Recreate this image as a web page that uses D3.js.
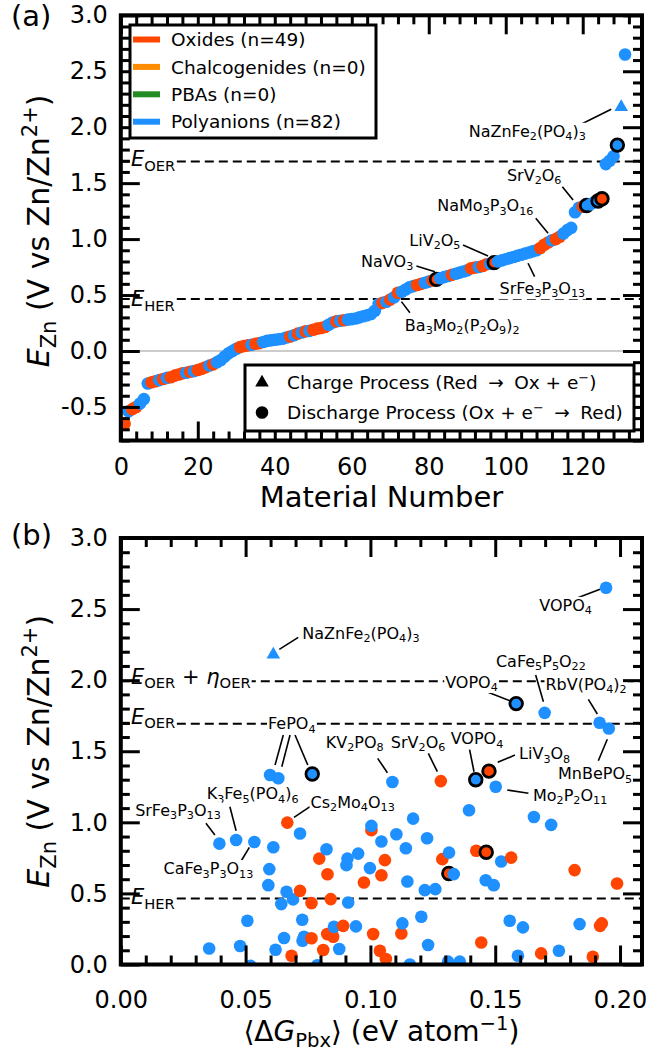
<!DOCTYPE html>
<html>
<head>
<meta charset="utf-8">
<script src="https://cdn.jsdelivr.net/npm/d3@7"></script>
<style>
  html, body { margin: 0; padding: 0; background: #ffffff; }
  svg { display: block; }
</style>
</head>
<body>
<svg id="fig" width="649" height="1051"></svg>
<script>
// ---------------------------------------------------------------
// Data
// ---------------------------------------------------------------

// (a) E_Zn of every material, sorted from lowest to highest
//     (material number = position in the list + 1)
const materialE = [
  -0.65, -0.54, -0.52, -0.50, -0.47, -0.43, -0.29, -0.28, -0.27, -0.26,
  -0.25, -0.24, -0.235, -0.22, -0.21, -0.20, -0.195, -0.185, -0.18, -0.17,
  -0.16, -0.145, -0.13, -0.12, -0.10, -0.08, -0.05, -0.02, 0.00, 0.02,
  0.035, 0.045, 0.05, 0.055, 0.065, 0.07, 0.08, 0.09, 0.095, 0.10,
  0.105, 0.11, 0.12, 0.13, 0.14, 0.155, 0.165, 0.175, 0.18, 0.19,
  0.20, 0.205, 0.215, 0.235, 0.255, 0.265, 0.27, 0.275, 0.28, 0.285,
  0.29, 0.30, 0.31, 0.32, 0.33, 0.36, 0.42, 0.43, 0.44, 0.46,
  0.48, 0.52, 0.53, 0.55, 0.57, 0.58, 0.59, 0.60, 0.61, 0.62,
  0.63, 0.64, 0.65, 0.66, 0.67, 0.68, 0.69, 0.70, 0.71, 0.72,
  0.74, 0.745, 0.75, 0.76, 0.775, 0.78, 0.79, 0.80, 0.81, 0.82,
  0.83, 0.84, 0.85, 0.86, 0.87, 0.88, 0.89, 0.90, 0.92, 0.95,
  0.97, 0.99, 1.00, 1.02, 1.05, 1.08, 1.10, 1.24, 1.28, 1.29,
  1.30, 1.31, 1.33, 1.34, 1.36, 1.67, 1.70, 1.74, 1.84, 2.18,
  2.65
];
// material class in the same order: o = oxide, p = polyanion
const materialClass = (
  "opoopppoop" + "opoooopopo" + "oopopppppp" + "ooopoopppp" + "pppopopopo" +
  "oooppopopp" + "pppppppopo" + "poppppoopp" + "oopppopppp" + "oopoopoppp" +
  "ppppppppoo" + "opoopppppo" + "ppppopppppp").split("");
// material numbers drawn with a black edge
const materialHighlight = [82, 97, 121, 124, 125, 129];
// material numbers whose voltage belongs to a charge process
const materialCharge = [130];

// (b) mean Pourbaix decomposition free energy and E_Zn of each material
const dGpbx = [
  0.0354, 0.0395, 0.0462, 0.0478, 0.0507, 0.0520, 0.0535, 0.0591, 0.0595, 0.0598,
  0.0611, 0.0611, 0.0620, 0.0631, 0.0643, 0.0654, 0.0664, 0.0667, 0.0684, 0.0690,
  0.0718, 0.0718, 0.0727, 0.0728, 0.0734, 0.0764, 0.0764, 0.0767, 0.0787, 0.0795,
  0.0811, 0.0824, 0.0827, 0.0828, 0.0841, 0.0851, 0.0854, 0.0875, 0.0891, 0.0904,
  0.0908, 0.0911, 0.0942, 0.0951, 0.0974, 0.0998, 0.1004, 0.1004, 0.1011, 0.1038,
  0.1044, 0.1044, 0.1058, 0.1062, 0.1088, 0.1104, 0.1124, 0.1128, 0.1142, 0.1148,
  0.1158, 0.1171, 0.1204, 0.1218, 0.1227, 0.1231, 0.1260, 0.1282, 0.1288, 0.1311,
  0.1314, 0.1315, 0.1334, 0.1358, 0.1395, 0.1422, 0.1424, 0.1444, 0.1462, 0.1464,
  0.1475, 0.1494, 0.1502, 0.1524, 0.1558, 0.1564, 0.1584, 0.1591, 0.1611, 0.1655,
  0.1684, 0.1698, 0.1724, 0.1755, 0.1818, 0.1838, 0.1891, 0.1918, 0.1920, 0.1927,
  0.1944, 0.1955, 0.1988
];
const eZn = [
  0.113, 0.850, 0.876, 0.130, 0.308, -0.010, 0.862, 0.558, 0.671, 1.333,
  2.180, 0.825, 0.104, 1.310, 0.425, 0.186, 0.512, 0.998, 0.062, 0.458,
  0.518, 0.921, 0.315, 0.167, 0.195, 0.185, 0.432, 1.340, -0.005, 0.745,
  0.102, 0.811, 0.214, 0.635, 0.460, 0.195, 0.265, 0.109, 0.272, 0.699,
  0.745, 0.436, 0.268, 0.780, 0.577, 0.678, 0.945, 0.975, 0.214, 0.097,
  0.628, 0.865, 0.734, 0.039, 1.284, 0.916, 0.218, 0.289, 0.818, 0.584,
  0.000, 1.026, 0.336, 0.523, 0.888, 0.137, 0.530, 1.290, 0.741, 0.020,
  0.640, 0.787, 0.636, 0.020, 1.085, 1.300, 0.800, 0.155, 0.593, 0.790,
  1.360, 0.558, 1.250, 0.724, 0.308, 0.752, 1.835, 0.062, 0.261, 1.038,
  0.078, 1.770, 0.982, 0.097, 0.664, 0.284, 0.055, 1.700, 0.272, 0.289,
  2.650, 1.660, 0.570
];
const pointClass = (
  "pppppppppp" + "pppppppoop" + "oppppooppo" + "opooooppop" + "ppppopopoo" +
  "opooppoppp" + "pppppppoop" + "opppppoopo" + "oppppopppp" + "opppopopoo" +
  "ppo").split("");
const pointHighlight = [27, 70, 75, 79, 80, 86];
const pointCharge = [10];

// reference potentials, V vs Zn/Zn2+
const E_HER = 0.464;
const E_OER = 1.693;
const ETA_OER = 0.30;

// legend entries
const legendClasses = ["Oxides (n=49)", "Chalcogenides (n=0)", "PBAs (n=0)", "Polyanions (n=82)"];
const classColors = ["#ff4500", "#ff8c00", "#228b22", "#1e90ff"];
const OXIDE = classColors[0], POLY = classColors[3];

// tick values
const xTicksA = [0, 20, 40, 60, 80, 100, 120];
const yTicksA = [-0.5, 0.0, 0.5, 1.0, 1.5, 2.0, 2.5, 3.0];
const xTicksB = [0.00, 0.05, 0.10, 0.15, 0.20];
const yTicksB = [0.0, 0.5, 1.0, 1.5, 2.0, 2.5, 3.0];

// annotated materials: label, label centre and leader line (data units)
const labelsA = [
  { name: "NaZnFe2(PO4)3", at: [105.6, 1.966], line: [[119.7, 2.029], [127.4, 2.16]] },
  { name: "SrV2O6",        at: [107.4, 1.573], line: [[114.7, 1.468], [117.5, 1.349]] },
  { name: "NaMo3P3O16",    at: [94.7, 1.30],   line: [[107.8, 1.186], [111.0, 1.052]] },
  { name: "LiV2O5",        at: [81.6, 0.992],  line: [[88.9, 0.947], [95.4, 0.849]] },
  { name: "NaVO3",         at: [69.2, 0.804],  line: [[76.8, 0.760], [81.6, 0.709]] },
  { name: "SrFe3P3O13",    at: [109.5, 0.563], line: [[107.5, 0.664], [105.8, 0.784]] },
  { name: "Ba3Mo2(P2O9)2", at: [88.7, 0.232],  line: [[75.1, 0.342], [72.9, 0.441]] }
];
const labelsB = [
  { name: "NaZnFe2(PO4)3", at: [0.0962, 2.331], line: [[0.0711, 2.301], [0.0635, 2.217]] },
  { name: "VOPO4",         at: [0.1782, 2.528], line: [[0.1833, 2.582], [0.1920, 2.639]] },
  { name: "CaFe5P5O22",    at: [0.1683, 2.136], line: [[0.1662, 2.036], [0.1693, 1.848]] },
  { name: "VOPO4",         at: [0.1405, 1.989], line: [[0.1466, 1.918], [0.1559, 1.855]] },
  { name: "RbV(PO4)2",     at: [0.1864, 1.973], line: [[0.1873, 1.865], [0.1909, 1.762]] },
  { name: "MnBePO5",       at: [0.1900, 1.345], line: [[0.1913, 1.433], [0.1949, 1.584]] },
  { name: "VOPO4",         at: [0.1427, 1.591], line: [[0.1395, 1.532], [0.1415, 1.356]] },
  { name: "LiV3O8",        at: [0.1698, 1.485], line: [[0.1579, 1.473], [0.1510, 1.422]] },
  { name: "Mo2P2O11",      at: [0.1800, 1.192], line: [[0.1633, 1.204], [0.1548, 1.227]] },
  { name: "SrV2O6",        at: [0.1191, 1.567], line: [[0.1232, 1.485], [0.1268, 1.356]] },
  { name: "KV2PO8",        at: [0.0937, 1.567], line: [[0.1029, 1.450], [0.1068, 1.349]] },
  { name: "FePO4",         at: [0.0685, 1.696], line: [[0.0651, 1.614], [0.0618, 1.403]] },
  { name: "",              at: null,            line: [[0.0678, 1.614], [0.0645, 1.391]] },
  { name: "",              at: null,            line: [[0.0698, 1.614], [0.0749, 1.403]] },
  { name: "Cs2Mo4O13",     at: [0.0929, 1.145], line: [[0.0758, 1.110], [0.0694, 1.035]] },
  { name: "K3Fe5(PO4)6",   at: [0.0528, 1.204], line: [[0.0437, 1.110], [0.0462, 0.941]] },
  { name: "SrFe3P3O13",    at: [0.0229, 1.087], line: [[0.0341, 0.993], [0.0377, 0.911]] },
  { name: "CaFe3P3O13",    at: [0.0351, 0.677], line: [[0.0482, 0.728], [0.0515, 0.824]] }
];

// ---------------------------------------------------------------
// Drawing
// ---------------------------------------------------------------
const FONT = "DejaVu Sans";
const svg = d3.select("#fig").attr("font-family", FONT);
const MAJOR = 19, MINOR = 9;
const R_PT = 6.3;

const xA = d3.scaleLinear().domain([0, 135.4]).range([120.8, 642]);
const yA = d3.scaleLinear().domain([-0.8, 3.0]).range([440.5, 15.3]);
const xB = d3.scaleLinear().domain([0, 0.2088]).range([120.8, 642]);
const yB = d3.scaleLinear().domain([0, 3.0]).range([964.5, 538]);

// rich text: segments {t, it, sub, sup}
function rich(text, segs, fs) {
  let off = 0;
  segs.forEach(s => {
    const target = s.sub ? fs * 0.22 : s.sup ? -fs * 0.40 : 0;
    const ts = text.append("tspan").text(s.t)
      .attr("font-size", (s.sub || s.sup) ? fs * 0.7 : fs)
      .attr("dy", target - off);
    if (s.it) ts.attr("font-style", "italic");
    off = target;
  });
  return text;
}
// chemical formula: digit groups become subscripts
function formulaSegs(str) {
  return str.match(/\d+|[^\d]+/g).map(p => ({ t: p, sub: /^\d+$/.test(p) }));
}
// text with a white box behind it
function boxed(g, x, y, segs, fs, anchor, pad) {
  const grp = g.append("g");
  const t = grp.append("text").attr("x", x).attr("y", y)
    .attr("text-anchor", anchor).attr("fill", "#000");
  rich(t, segs, fs);
  const b = t.node().getBBox();
  grp.insert("rect", "text")
    .attr("x", b.x - pad).attr("y", b.y + 1).attr("width", b.width + 2 * pad).attr("height", b.height - 2)
    .attr("fill", "#fff");
  return grp;
}

function clipFor(id, x, y) {
  const [L, R] = x.range(), [B, T] = y.range();
  svg.append("clipPath").attr("id", id).append("rect")
    .attr("x", L).attr("y", T).attr("width", R - L).attr("height", B - T);
}

function frame(x, y, opt) {
  const [L, R] = x.range(), [B, T] = y.range();
  const g = svg.append("g");
  const style = sel => {
    sel.select(".domain").remove();
    sel.selectAll(".tick line").attr("stroke", "#000").attr("stroke-width", 3);
    sel.selectAll(".tick text").attr("font-size", 24).attr("fill", "#000").attr("font-family", FONT);
  };
  const sides = [
    [d3.axisBottom, `translate(0,${B})`, x, opt.xMinor, opt.xMajor, opt.xFmt, opt.xPad],
    [d3.axisTop, `translate(0,${T})`, x, opt.xMinor, opt.xMajor, null, 0],
    [d3.axisLeft, `translate(${L},0)`, y, opt.yMinor, opt.yMajor, opt.yFmt, opt.yPad],
    [d3.axisRight, `translate(${R},0)`, y, opt.yMinor, opt.yMajor, null, 0]
  ];
  sides.forEach(([ax, tr, sc, minor, major, fmt, pad]) => {
    g.append("g").attr("transform", tr)
      .call(ax(sc).tickValues(minor).tickSize(-MINOR).tickFormat(""))
      .call(style);
    g.append("g").attr("transform", tr)
      .call(ax(sc).tickValues(major).tickSize(-MAJOR).tickPadding(pad).tickFormat(fmt || ""))
      .call(style);
  });
  g.append("rect").attr("x", L).attr("y", T).attr("width", R - L).attr("height", B - T)
    .attr("fill", "none").attr("stroke", "#000").attr("stroke-width", 4);
}

function refLine(g, x, y, v) {
  const [L, R] = x.range();
  g.append("line").attr("x1", L).attr("x2", R).attr("y1", y(v)).attr("y2", y(v))
    .attr("stroke", "#000").attr("stroke-width", 2).attr("stroke-dasharray", "9,5");
}

function points(g, xs, ys, cls, hi, charge) {
  const idx = d3.range(xs.length);
  g.selectAll("path.pt").data(idx).join("path").attr("class", "pt")
    .attr("transform", i => `translate(${xs[i]},${ys[i]})`)
    .attr("d", i => charge.includes(i)
      ? d3.symbol(d3.symbolTriangle, 80)()
      : d3.symbol(d3.symbolCircle, Math.PI * R_PT * R_PT)())
    .attr("fill", i => cls[i] === "o" ? OXIDE : POLY)
    .attr("stroke", i => hi.includes(i) ? "#000" : "none")
    .attr("stroke-width", 2.8);
}

function leaders(g, x, y, labels) {
  labels.forEach(l => {
    g.append("line")
      .attr("x1", x(l.line[0][0])).attr("y1", y(l.line[0][1]))
      .attr("x2", x(l.line[1][0])).attr("y2", y(l.line[1][1]))
      .attr("stroke", "#000").attr("stroke-width", 1.6);
  });
}
function labelTexts(g, x, y, labels) {
  labels.filter(l => l.at).forEach(l => {
    boxed(g, x(l.at[0]), y(l.at[1]) + 5.8, formulaSegs(l.name), 16, "middle", 1);
  });
}

function minorRange(lo, hi, step, majorStep) {
  const out = [];
  const n = Math.round((hi - lo) / step);
  for (let i = 0; i <= n; i++) {
    const v = +(lo + i * step).toFixed(6);
    if (Math.abs(v / majorStep - Math.round(v / majorStep)) > 1e-6) out.push(v);
  }
  return out;
}

// ------------------------- panel (a) -------------------------
clipFor("clipA", xA, yA);
const gA = svg.append("g");
gA.append("line").attr("x1", xA.range()[0]).attr("x2", xA.range()[1])
  .attr("y1", yA(0)).attr("y2", yA(0)).attr("stroke", "#cccccc").attr("stroke-width", 2);
refLine(gA, xA, yA, E_OER);
refLine(gA, xA, yA, E_HER);
leaders(gA, xA, yA, labelsA);
points(gA.append("g").attr("clip-path", "url(#clipA)"),
  materialE.map((_, i) => xA(i + 1)), materialE.map(v => yA(v)),
  materialClass, materialHighlight.map(n => n - 1), materialCharge.map(n => n - 1));
labelTexts(gA, xA, yA, labelsA);
boxed(gA, 131, 166, [{ t: "E", it: true }, { t: "OER", sub: true }], 21, "start", 1);
boxed(gA, 131, 306, [{ t: "E", it: true }, { t: "HER", sub: true }], 21, "start", 1);

frame(xA, yA, {
  xMajor: xTicksA, xMinor: minorRange(0, 132, 4, 20), xFmt: d3.format("d"), xPad: 17,
  yMajor: yTicksA, yMinor: minorRange(-0.8, 3.0, 0.1, 0.5), yFmt: v => v.toFixed(1), yPad: 13
});

// legend of material classes
const legA = svg.append("g");
legA.append("rect").attr("x", 130).attr("y", 25).attr("width", 246).attr("height", 113)
  .attr("fill", "#fff").attr("stroke", "#000").attr("stroke-width", 3);
legendClasses.forEach((t, i) => {
  const yy = 39.5 + i * 27.4;
  legA.append("line").attr("x1", 133).attr("x2", 160).attr("y1", yy).attr("y2", yy)
    .attr("stroke", classColors[i]).attr("stroke-width", 6);
  legA.append("text").attr("x", 171).attr("y", yy + 6.7).attr("font-size", 18.5).text(t);
});

// legend of marker shapes
const legB = svg.append("g");
legB.append("rect").attr("x", 245).attr("y", 365).attr("width", 389).attr("height", 66)
  .attr("fill", "#fff").attr("stroke", "#000").attr("stroke-width", 3);
legB.append("path").attr("transform", "translate(262,382.5)")
  .attr("d", d3.symbol(d3.symbolTriangle, 80)()).attr("fill", "#000");
legB.append("circle").attr("cx", 262).attr("cy", 412.5).attr("r", R_PT).attr("fill", "#000");
rich(legB.append("text").attr("x", 287).attr("y", 389), [
  { t: "Charge Process (Red \u2005\u2192\u2005 Ox + e" }, { t: "\u2212", sup: true }, { t: ")" }
], 18.5);
rich(legB.append("text").attr("x", 287).attr("y", 419), [
  { t: "Discharge Process (Ox + e" }, { t: "\u2212", sup: true }, { t: " \u2005\u2192\u2005 Red)" }
], 18.5);

// axis titles for (a)
svg.append("text").attr("x", xA(67.7)).attr("y", 507).attr("text-anchor", "middle")
  .attr("font-size", 29).text("Material Number");
rich(svg.append("text").attr("transform", `translate(49,${(yA.range()[0] + yA.range()[1]) / 2 + 3}) rotate(-90)`)
  .attr("text-anchor", "middle"), [
  { t: "E", it: true }, { t: "Zn", sub: true }, { t: " (V vs Zn/Zn" }, { t: "2+", sup: true }, { t: ")" }
], 30);
svg.append("text").attr("x", 11).attr("y", 26).attr("font-size", 29).text("(a)");

// ------------------------- panel (b) -------------------------
clipFor("clipB", xB, yB);
const gB = svg.append("g");
refLine(gB, xB, yB, E_OER + ETA_OER);
refLine(gB, xB, yB, E_OER);
refLine(gB, xB, yB, E_HER);
leaders(gB, xB, yB, labelsB);
points(gB.append("g").attr("clip-path", "url(#clipB)"),
  dGpbx.map(v => xB(v)), eZn.map(v => yB(v)), pointClass, pointHighlight, pointCharge);
labelTexts(gB, xB, yB, labelsB);
boxed(gB, 131, 683.5, [{ t: "E", it: true }, { t: "OER", sub: true }, { t: " + " },
  { t: "\u03b7", it: true }, { t: "OER", sub: true }], 21, "start", 1);
boxed(gB, 131, 723.5, [{ t: "E", it: true }, { t: "OER", sub: true }], 21, "start", 1);
boxed(gB, 131, 904, [{ t: "E", it: true }, { t: "HER", sub: true }], 21, "start", 1);

frame(xB, yB, {
  xMajor: xTicksB, xMinor: minorRange(0, 0.20, 0.01, 0.05), xFmt: v => v.toFixed(2), xPad: 26,
  yMajor: yTicksB, yMinor: minorRange(0, 3.0, 0.1, 0.5), yFmt: v => v.toFixed(1), yPad: 13
});

rich(svg.append("text").attr("x", (xB.range()[0] + xB.range()[1]) / 2).attr("y", 1041)
  .attr("text-anchor", "middle"), [
  { t: "\u27e8\u0394" }, { t: "G", it: true }, { t: "Pbx", sub: true }, { t: "\u27e9 (eV atom" },
  { t: "\u22121", sup: true }, { t: ")" }
], 28);
rich(svg.append("text").attr("transform", `translate(49,${(yB.range()[0] + yB.range()[1]) / 2}) rotate(-90)`)
  .attr("text-anchor", "middle"), [
  { t: "E", it: true }, { t: "Zn", sub: true }, { t: " (V vs Zn/Zn" }, { t: "2+", sup: true }, { t: ")" }
], 30);
svg.append("text").attr("x", 11).attr("y", 545).attr("font-size", 29).text("(b)");
</script>
</body>
</html>
